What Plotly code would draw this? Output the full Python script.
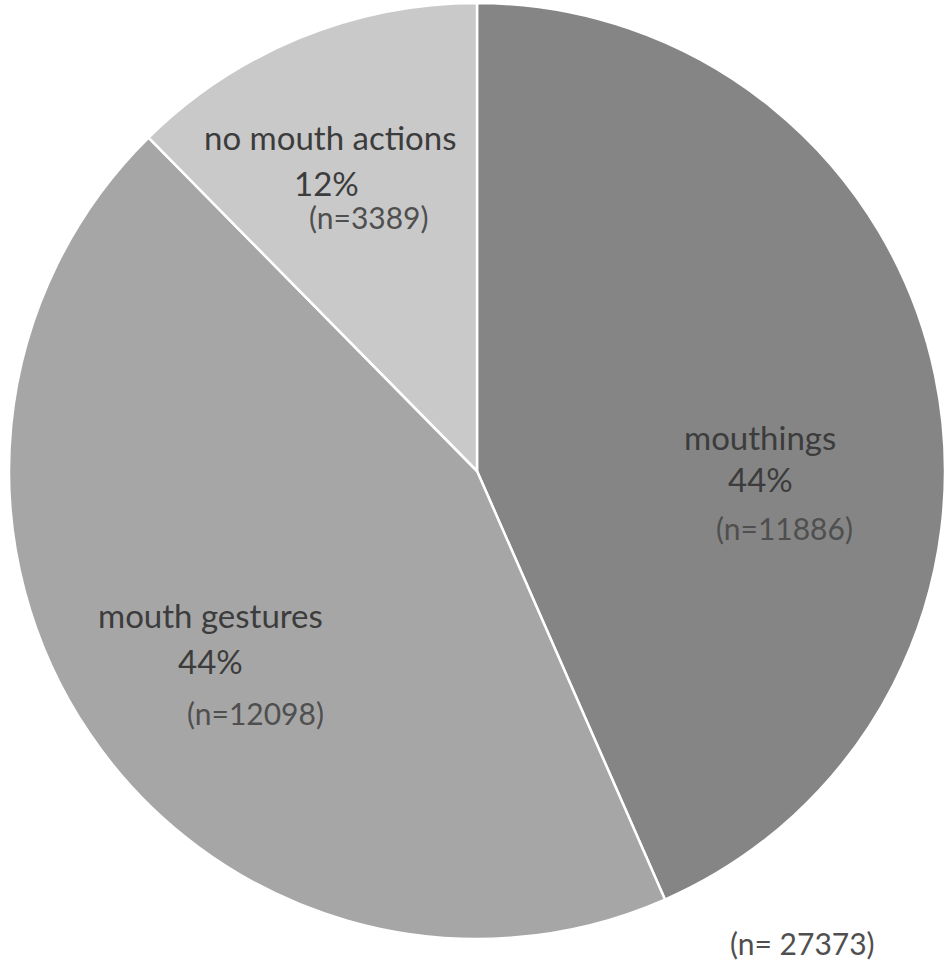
import plotly.graph_objects as go

labels = ["mouthings", "mouth gestures", "no mouth actions"]
counts = [11886, 12098, 3389]
percents = ["44%", "44%", "12%"]
total_label = "(n= 27373)"
colors = ["#858585", "#a6a6a6", "#c9c9c9"]

W, H = 950, 969

fig = go.Figure(go.Pie(
    labels=labels,
    values=counts,
    sort=False,
    direction="clockwise",
    rotation=0,
    marker=dict(colors=colors, line=dict(color="white", width=2.5)),
    textinfo="none",
    hoverinfo="label+value+percent",
    showlegend=False,
    domain=dict(x=[9 / W, 945 / W], y=[1 - 939 / H, 1 - 3 / H]),
))

# label placements (pixel centers) for name, percent, count per slice
pos = {
    "mouthings": [(760, 437), (760, 479), (784, 528)],
    "mouth gestures": [(210, 615), (210, 661), (255, 713)],
    "no mouth actions": [(330, 137), (326, 183), (369, 217)],
}

font_main = dict(family="Lato, 'Open Sans', sans-serif", size=33, color="#3c3c3c")
font_n = dict(family="Lato, 'Open Sans', sans-serif", size=30, color="#4f4f4f")

ann = []
for lab, c, p in zip(labels, counts, percents):
    (x1, y1), (x2, y2), (x3, y3) = pos[lab]
    for (x, y), t, f in [((x1, y1), lab, font_main), ((x2, y2), p, font_main),
                         ((x3, y3), f"(n={c})", font_n)]:
        ann.append(dict(x=x / W, y=1 - y / H, xref="paper", yref="paper",
                        text=t, showarrow=False, font=f,
                        xanchor="center", yanchor="middle"))
ann.append(dict(x=802 / W, y=1 - 943 / H, xref="paper", yref="paper",
                text=total_label, showarrow=False, font=font_n,
                xanchor="center", yanchor="middle"))

fig.update_layout(
    width=W, height=H,
    margin=dict(l=0, r=0, t=0, b=0),
    paper_bgcolor="white",
    plot_bgcolor="white",
    annotations=ann,
)

fig.write_html("out.html",
               config={"displayModeBar": False},
               post_script="document.body.style.margin='0';document.body.style.overflow='hidden';")
